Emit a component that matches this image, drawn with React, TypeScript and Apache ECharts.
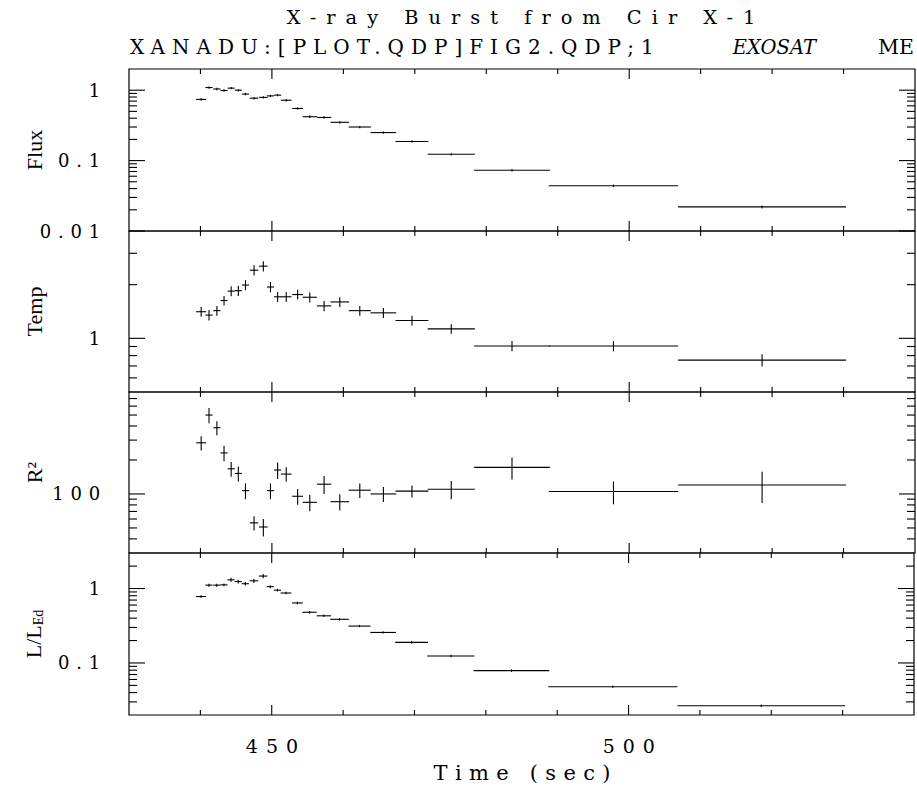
import React, { useEffect, useRef } from 'react';
import * as echarts from 'echarts';

// ---- data ----
const time = [440.1, 441.2, 442.3, 443.3, 444.3, 445.3, 446.3, 447.5, 448.8, 449.8, 450.8, 452.0, 453.6, 455.3, 457.3, 459.5, 462.3, 465.6, 469.6, 475.1, 483.6, 497.8, 518.6];
const halfWidth = [0.7, 0.5, 0.5, 0.5, 0.5, 0.5, 0.5, 0.6, 0.6, 0.5, 0.5, 0.75, 0.75, 1.0, 1.0, 1.3, 1.55, 1.8, 2.3, 3.3, 5.3, 9.05, 11.75];

const flux = [0.74, 1.09, 1.04, 0.99, 1.07, 1.0, 0.88, 0.77, 0.79, 0.83, 0.85, 0.72, 0.55, 0.42, 0.41, 0.35, 0.30, 0.25, 0.187, 0.123, 0.073, 0.044, 0.022];
const fluxErr = [0.03, 0.04, 0.04, 0.04, 0.04, 0.04, 0.035, 0.03, 0.03, 0.03, 0.03, 0.03, 0.022, 0.016, 0.016, 0.013, 0.011, 0.009, 0.007, 0.0045, 0.003, 0.0018, 0.0011];

const temp = [1.41, 1.35, 1.43, 1.63, 1.84, 1.85, 1.99, 2.41, 2.54, 1.94, 1.71, 1.71, 1.76, 1.70, 1.52, 1.60, 1.43, 1.39, 1.26, 1.13, 0.905, 0.905, 0.755];
const tempErr = [0.09, 0.09, 0.09, 0.1, 0.12, 0.12, 0.13, 0.16, 0.17, 0.13, 0.11, 0.11, 0.11, 0.11, 0.1, 0.1, 0.09, 0.09, 0.08, 0.07, 0.06, 0.06, 0.06];

const radius = [284, 500, 386, 231, 167, 152, 107, 55.5, 51, 107, 163, 150, 95.4, 84.3, 122, 85.4, 108, 100, 106, 110, 172, 105, 120];
const radiusErr = [41, 76, 55, 36, 25, 23, 17, 8, 9, 17, 27, 22, 15, 14, 22, 14, 16, 15, 13, 20, 38, 24, 37];

const lum = [0.78, 1.11, 1.11, 1.12, 1.31, 1.24, 1.16, 1.27, 1.47, 1.06, 0.95, 0.87, 0.64, 0.48, 0.43, 0.386, 0.313, 0.257, 0.189, 0.124, 0.079, 0.048, 0.0266];
const lumErr = [0.03, 0.05, 0.05, 0.05, 0.08, 0.07, 0.06, 0.08, 0.1, 0.05, 0.04, 0.035, 0.025, 0.018, 0.016, 0.014, 0.011, 0.009, 0.007, 0.0045, 0.003, 0.0018, 0.001];

const xMin = 430;
const xMax = 540;
const xMinorTicks = [440, 460, 470, 480, 490, 510, 520, 530];
const xMajorTicks = [450, 500];
const xTickLabels = [450, 500];

const yMin = [0.01, 0.5, 30, 0.02];
const yMax = [2, 4, 800, 3];
const yMajorTicks = [
  [0.01, 0.1, 1],
  [1],
  [100],
  [0.1, 1],
];
const yMinorTicks = [
  [0.02, 0.03, 0.04, 0.05, 0.06, 0.07, 0.08, 0.09, 0.2, 0.3, 0.4, 0.5, 0.6, 0.7, 0.8, 0.9],
  [0.6, 0.7, 0.8, 0.9, 2, 3],
  [40, 50, 60, 70, 80, 90, 200, 300, 400, 500, 600, 700],
  [0.03, 0.04, 0.05, 0.06, 0.07, 0.08, 0.09, 0.2, 0.3, 0.4, 0.5, 0.6, 0.7, 0.8, 0.9, 2],
];

const titleText = 'X-ray Burst from Cir X-1';
const subtitleText = 'XANADU:[PLOT.QDP]FIG2.QDP;1';
const missionText = 'EXOSAT';
const instrumentText = 'ME';
const xAxisTitle = 'Time (sec)';

// ---- layout (not data) ----
const W = 917;
const H = 787;
const GRID_LEFT = 129;
const GRID_WIDTH = 786;
const GRID_TOPS = [69, 231, 392, 553];
const GRID_HEIGHTS = [162, 161, 161, 162];
const SERIF = '"DejaVu Serif", serif';
const ROMAN = '"Liberation Serif", "DejaVu Serif", serif';

function decadeLabel(v: number): string {
  const l = Math.log10(v);
  const k = Math.round(l);
  if (Math.abs(l - k) > 1e-6) return '';
  if (k >= 0) return String(Math.pow(10, k));
  return '0.' + '0'.repeat(-k - 1) + '1';
}

const lineStyle = { stroke: '#000', lineWidth: 1.1 };

function errorBarItem(params: any, api: any) {
  const t = api.value(0);
  const v = api.value(1);
  const hw = api.value(2);
  const e = api.value(3);
  const a = api.coord([t - hw, v]);
  const b = api.coord([t + hw, v]);
  const c = api.coord([t, v - e]);
  const d = api.coord([t, v + e]);
  return {
    type: 'group',
    children: [
      { type: 'line', shape: { x1: a[0], y1: a[1], x2: b[0], y2: b[1] }, style: lineStyle },
      { type: 'line', shape: { x1: c[0], y1: c[1], x2: d[0], y2: d[1] }, style: lineStyle },
    ],
  };
}

function yTickItem(params: any, api: any) {
  const cs = params.coordSys;
  const y = api.coord([api.value(0), api.value(1)])[1];
  const len = api.value(2) ? 16 : 8;
  const r = cs.x + cs.width;
  return {
    type: 'group',
    children: [
      { type: 'line', shape: { x1: cs.x, y1: y, x2: cs.x + len, y2: y }, style: lineStyle },
      { type: 'line', shape: { x1: r - len, y1: y, x2: r, y2: y }, style: lineStyle },
    ],
  };
}

function xTickItem(params: any, api: any) {
  const cs = params.coordSys;
  const x = api.coord([api.value(0), api.value(1)])[0];
  const len = api.value(2) ? 10 : 5;
  const b = cs.y + cs.height;
  return {
    type: 'group',
    children: [
      { type: 'line', shape: { x1: x, y1: b, x2: x, y2: b - len }, style: lineStyle },
      { type: 'line', shape: { x1: x, y1: cs.y, x2: x, y2: cs.y + len }, style: lineStyle },
    ],
  };
}

export default function App() {
  const ref = useRef<HTMLDivElement>(null);

  useEffect(() => {
    document.body.style.margin = '0';
    if (!ref.current) return;
    const chart = echarts.init(ref.current, undefined, { renderer: 'svg', width: W, height: H });

    const values = [flux, temp, radius, lum];
    const errors = [fluxErr, tempErr, radiusErr, lumErr];
    const names = ['Flux', 'Temp', 'R²', '{a|L/L}{b|Ed}'];

    const grid = GRID_TOPS.map((top, i) => ({
      left: GRID_LEFT,
      top,
      width: GRID_WIDTH,
      height: GRID_HEIGHTS[i],
      show: true,
      borderColor: '#000',
      borderWidth: 1.2,
      backgroundColor: 'transparent',
    }));

    const xAxis = GRID_TOPS.map((_, i) => ({
      type: 'value',
      gridIndex: i,
      min: xMin,
      max: xMax,
      interval: 10,
      axisLine: { show: false },
      axisTick: { show: false },
      splitLine: { show: false },
      axisLabel:
        i === 3
          ? {
              show: true,
              formatter: (v: number) => (xTickLabels.includes(v) ? String(v) : ''),
              fontFamily: SERIF,
              fontSize: 19,
              color: '#000',
              margin: 21,
              padding: [0, 0, 0, 8.5],
            }
          : { show: false },
    }));

    const yAxis = GRID_TOPS.map((_, i) => ({
      type: 'log',
      logBase: 10,
      gridIndex: i,
      min: yMin[i],
      max: yMax[i],
      axisLine: { show: false },
      axisTick: { show: false },
      splitLine: { show: false },
      axisLabel: {
        formatter: (v: number) => decadeLabel(v),
        fontFamily: SERIF,
        fontSize: 18,
        color: '#000',
        margin: 22,
      },
      name: names[i],
      nameLocation: 'middle',
      nameRotate: 90,
      nameGap: 84,
      nameTextStyle: {
        fontFamily: ROMAN,
        fontSize: 22,
        color: '#000',
        rich: {
          a: { fontFamily: ROMAN, fontSize: 22, color: '#000' },
          b: { fontFamily: ROMAN, fontSize: 14, color: '#000', padding: [10, 0, 0, 0] },
        },
      },
    }));

    const series: any[] = [];
    for (let i = 0; i < 4; i++) {
      series.push({
        type: 'custom',
        xAxisIndex: i,
        yAxisIndex: i,
        silent: true,
        renderItem: errorBarItem,
        encode: { x: 0, y: 1 },
        data: time.map((t, k) => [t, values[i][k], halfWidth[k], errors[i][k]]),
      });
      series.push({
        type: 'custom',
        xAxisIndex: i,
        yAxisIndex: i,
        silent: true,
        renderItem: yTickItem,
        encode: { x: 0, y: 1 },
        data: [
          ...yMajorTicks[i].map((v) => [xMin, v, 1]),
          ...yMinorTicks[i].map((v) => [xMin, v, 0]),
        ],
      });
      series.push({
        type: 'custom',
        xAxisIndex: i,
        yAxisIndex: i,
        silent: true,
        renderItem: xTickItem,
        encode: { x: 0, y: 1 },
        data: [
          ...xMajorTicks.map((t) => [t, yMajorTicks[i][0], 1]),
          ...xMinorTicks.map((t) => [t, yMajorTicks[i][0], 0]),
        ],
      });
    }

    const graphic = [
      {
        type: 'text',
        x: 521 + 5,
        y: 17,
        style: { text: titleText, font: '19.4px ' + SERIF, fill: '#000', textAlign: 'center', textVerticalAlign: 'middle', align: 'center', verticalAlign: 'middle' },
      },
      {
        type: 'text',
        x: 130,
        y: 47,
        style: { text: subtitleText, font: '20px ' + SERIF, fill: '#000', textAlign: 'left', textVerticalAlign: 'middle', align: 'left', verticalAlign: 'middle' },
      },
      {
        type: 'text',
        x: 816,
        y: 47,
        style: { text: missionText, font: 'italic 19.5px ' + SERIF, fill: '#000', textAlign: 'right', textVerticalAlign: 'middle', align: 'right', verticalAlign: 'middle' },
      },
      {
        type: 'text',
        x: 914,
        y: 47,
        style: { text: instrumentText, font: '20.5px ' + SERIF, fill: '#000', textAlign: 'right', textVerticalAlign: 'middle', align: 'right', verticalAlign: 'middle' },
      },
      {
        type: 'text',
        x: 522 + 3.65,
        y: 773,
        style: { text: xAxisTitle, font: '21px ' + SERIF, fill: '#000', textAlign: 'center', textVerticalAlign: 'middle', align: 'center', verticalAlign: 'middle' },
      },
    ];

    chart.setOption({
      animation: false,
      backgroundColor: '#fff',
      grid,
      xAxis,
      yAxis,
      series,
      graphic,
    } as any);

    return () => chart.dispose();
  }, []);

  return (
    <div>
      <style>{`
        .xrb text[style*="19.4px"] { letter-spacing: 10px; }
        .xrb text[style*="20px"] { letter-spacing: 7px; }
        .xrb text[style*="21px"] { letter-spacing: 7.3px; }
        .xrb text[style*="19px"] { letter-spacing: 8px; }
        .xrb text[style*="18px"] { letter-spacing: 6.8px; }
      `}</style>
      <div className="xrb" ref={ref} style={{ width: W, height: H }} />
    </div>
  );
}
